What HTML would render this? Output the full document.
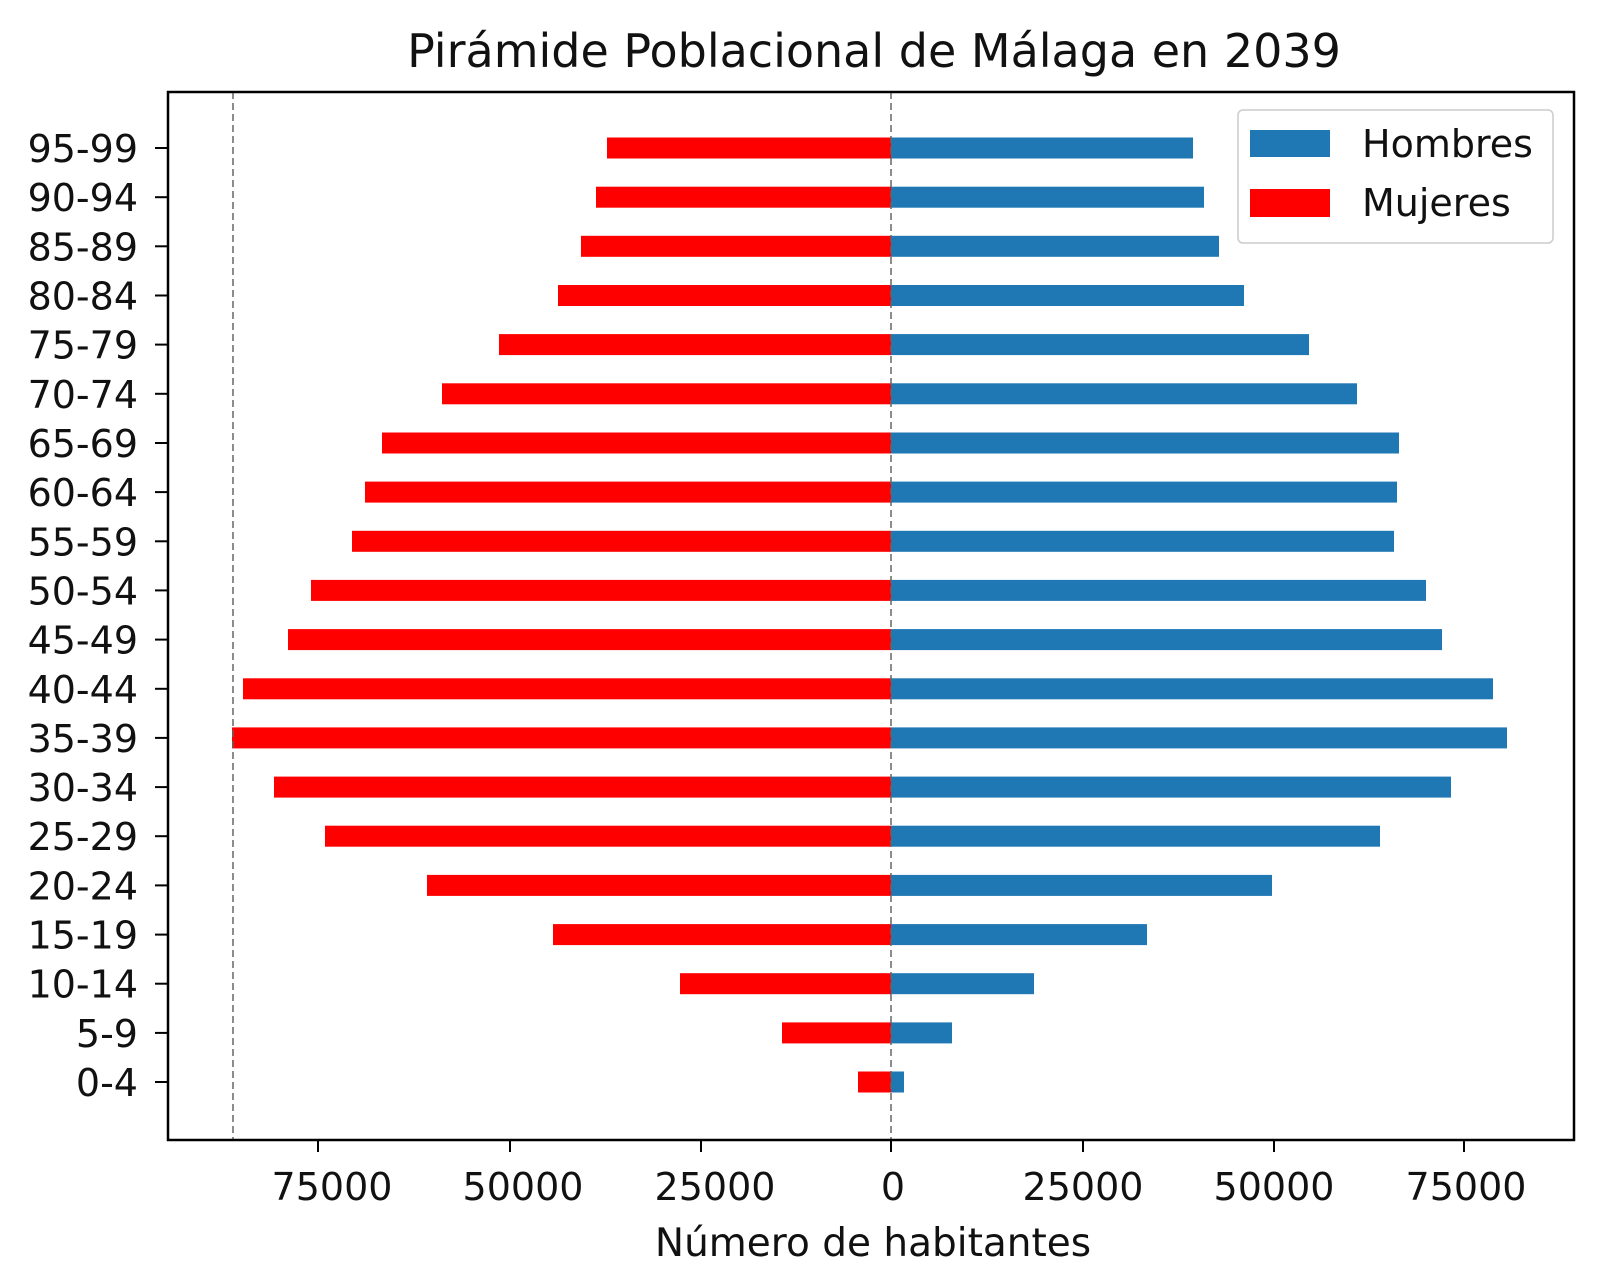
<!DOCTYPE html>
<html><head><meta charset="utf-8"><style>html,body{margin:0;padding:0;background:#fff}svg{display:block}</style></head>
<body>
<svg width="1600" height="1288" xmlns="http://www.w3.org/2000/svg" font-family="DejaVu Sans, Liberation Sans, sans-serif">
<rect width="1600" height="1288" fill="#fff"/>
<text x="874" y="67" font-size="46" text-anchor="middle" fill="#111">Pirámide Poblacional de Málaga en 2039</text>
<g>
<rect x="607" y="137.5" width="284" height="21" fill="#ff0000"/><rect x="891" y="137.5" width="302" height="21" fill="#1f77b4"/>
<rect x="596" y="186.7" width="295" height="21" fill="#ff0000"/><rect x="891" y="186.7" width="313" height="21" fill="#1f77b4"/>
<rect x="581" y="235.8" width="310" height="21" fill="#ff0000"/><rect x="891" y="235.8" width="328" height="21" fill="#1f77b4"/>
<rect x="558" y="285" width="333" height="21" fill="#ff0000"/><rect x="891" y="285" width="353" height="21" fill="#1f77b4"/>
<rect x="499" y="334.1" width="392" height="21" fill="#ff0000"/><rect x="891" y="334.1" width="418" height="21" fill="#1f77b4"/>
<rect x="442" y="383.3" width="449" height="21" fill="#ff0000"/><rect x="891" y="383.3" width="466" height="21" fill="#1f77b4"/>
<rect x="382" y="432.5" width="509" height="21" fill="#ff0000"/><rect x="891" y="432.5" width="508" height="21" fill="#1f77b4"/>
<rect x="365" y="481.6" width="526" height="21" fill="#ff0000"/><rect x="891" y="481.6" width="506" height="21" fill="#1f77b4"/>
<rect x="352" y="530.8" width="539" height="21" fill="#ff0000"/><rect x="891" y="530.8" width="503" height="21" fill="#1f77b4"/>
<rect x="311" y="579.9" width="580" height="21" fill="#ff0000"/><rect x="891" y="579.9" width="535" height="21" fill="#1f77b4"/>
<rect x="288" y="629.1" width="603" height="21" fill="#ff0000"/><rect x="891" y="629.1" width="551" height="21" fill="#1f77b4"/>
<rect x="243" y="678.3" width="648" height="21" fill="#ff0000"/><rect x="891" y="678.3" width="602" height="21" fill="#1f77b4"/>
<rect x="232" y="727.4" width="659" height="21" fill="#ff0000"/><rect x="891" y="727.4" width="616" height="21" fill="#1f77b4"/>
<rect x="274" y="776.6" width="617" height="21" fill="#ff0000"/><rect x="891" y="776.6" width="560" height="21" fill="#1f77b4"/>
<rect x="325" y="825.7" width="566" height="21" fill="#ff0000"/><rect x="891" y="825.7" width="489" height="21" fill="#1f77b4"/>
<rect x="427" y="874.9" width="464" height="21" fill="#ff0000"/><rect x="891" y="874.9" width="381" height="21" fill="#1f77b4"/>
<rect x="553" y="924.1" width="338" height="21" fill="#ff0000"/><rect x="891" y="924.1" width="256" height="21" fill="#1f77b4"/>
<rect x="680" y="973.2" width="211" height="21" fill="#ff0000"/><rect x="891" y="973.2" width="143" height="21" fill="#1f77b4"/>
<rect x="782" y="1022.4" width="109" height="21" fill="#ff0000"/><rect x="891" y="1022.4" width="61" height="21" fill="#1f77b4"/>
<rect x="858" y="1071.5" width="33" height="21" fill="#ff0000"/><rect x="891" y="1071.5" width="13" height="21" fill="#1f77b4"/>
</g>
<line x1="233" y1="92" x2="233" y2="1140" stroke="#666" stroke-width="1.5" stroke-dasharray="7,4"/>
<line x1="891" y1="92" x2="891" y2="1140" stroke="#666" stroke-width="1.5" stroke-dasharray="7,4"/>
<rect x="168" y="92" width="1406" height="1048" fill="none" stroke="#000" stroke-width="2.5"/>
<g font-size="38" text-anchor="end" fill="#111" stroke="#000" stroke-width="2">
<line x1="155" y1="148" x2="168" y2="148"/><text stroke="none" x="138" y="162">95-99</text>
<line x1="155" y1="197.2" x2="168" y2="197.2"/><text stroke="none" x="138" y="211.2">90-94</text>
<line x1="155" y1="246.3" x2="168" y2="246.3"/><text stroke="none" x="138" y="260.3">85-89</text>
<line x1="155" y1="295.5" x2="168" y2="295.5"/><text stroke="none" x="138" y="309.5">80-84</text>
<line x1="155" y1="344.6" x2="168" y2="344.6"/><text stroke="none" x="138" y="358.6">75-79</text>
<line x1="155" y1="393.8" x2="168" y2="393.8"/><text stroke="none" x="138" y="407.8">70-74</text>
<line x1="155" y1="443" x2="168" y2="443"/><text stroke="none" x="138" y="457">65-69</text>
<line x1="155" y1="492.1" x2="168" y2="492.1"/><text stroke="none" x="138" y="506.1">60-64</text>
<line x1="155" y1="541.3" x2="168" y2="541.3"/><text stroke="none" x="138" y="555.3">55-59</text>
<line x1="155" y1="590.4" x2="168" y2="590.4"/><text stroke="none" x="138" y="604.4">50-54</text>
<line x1="155" y1="639.6" x2="168" y2="639.6"/><text stroke="none" x="138" y="653.6">45-49</text>
<line x1="155" y1="688.8" x2="168" y2="688.8"/><text stroke="none" x="138" y="702.8">40-44</text>
<line x1="155" y1="737.9" x2="168" y2="737.9"/><text stroke="none" x="138" y="751.9">35-39</text>
<line x1="155" y1="787.1" x2="168" y2="787.1"/><text stroke="none" x="138" y="801.1">30-34</text>
<line x1="155" y1="836.2" x2="168" y2="836.2"/><text stroke="none" x="138" y="850.2">25-29</text>
<line x1="155" y1="885.4" x2="168" y2="885.4"/><text stroke="none" x="138" y="899.4">20-24</text>
<line x1="155" y1="934.6" x2="168" y2="934.6"/><text stroke="none" x="138" y="948.6">15-19</text>
<line x1="155" y1="983.7" x2="168" y2="983.7"/><text stroke="none" x="138" y="997.7">10-14</text>
<line x1="155" y1="1032.9" x2="168" y2="1032.9"/><text stroke="none" x="138" y="1046.9">5-9</text>
<line x1="155" y1="1082" x2="168" y2="1082"/><text stroke="none" x="138" y="1096">0-4</text>
</g>
<g font-size="38" text-anchor="middle" fill="#111" stroke="#000">
<line x1="318" y1="1140" x2="318" y2="1152" stroke-width="2"/><text stroke="none" x="332" y="1200">75000</text>
<line x1="510" y1="1140" x2="510" y2="1152" stroke-width="2"/><text stroke="none" x="523" y="1200">50000</text>
<line x1="701" y1="1140" x2="701" y2="1152" stroke-width="2"/><text stroke="none" x="715" y="1200">25000</text>
<line x1="891" y1="1140" x2="891" y2="1152" stroke-width="2"/><text stroke="none" x="893" y="1200">0</text>
<line x1="1083" y1="1140" x2="1083" y2="1152" stroke-width="2"/><text stroke="none" x="1083" y="1200">25000</text>
<line x1="1274" y1="1140" x2="1274" y2="1152" stroke-width="2"/><text stroke="none" x="1274" y="1200">50000</text>
<line x1="1464" y1="1140" x2="1464" y2="1152" stroke-width="2"/><text stroke="none" x="1466" y="1200">75000</text>
</g>
<text x="873" y="1256" font-size="39" text-anchor="middle" fill="#111">Número de habitantes</text>
<rect x="1238" y="110" width="315" height="133" rx="5" fill="#fff" stroke="#ccc" stroke-width="1.5"/>
<rect x="1250" y="130" width="80" height="27" fill="#1f77b4"/>
<rect x="1250" y="189" width="80" height="28" fill="#ff0000"/>
<text x="1362" y="157" font-size="38" fill="#111">Hombres</text>
<text x="1362" y="216" font-size="38" fill="#111">Mujeres</text>
</svg>
</body></html>
